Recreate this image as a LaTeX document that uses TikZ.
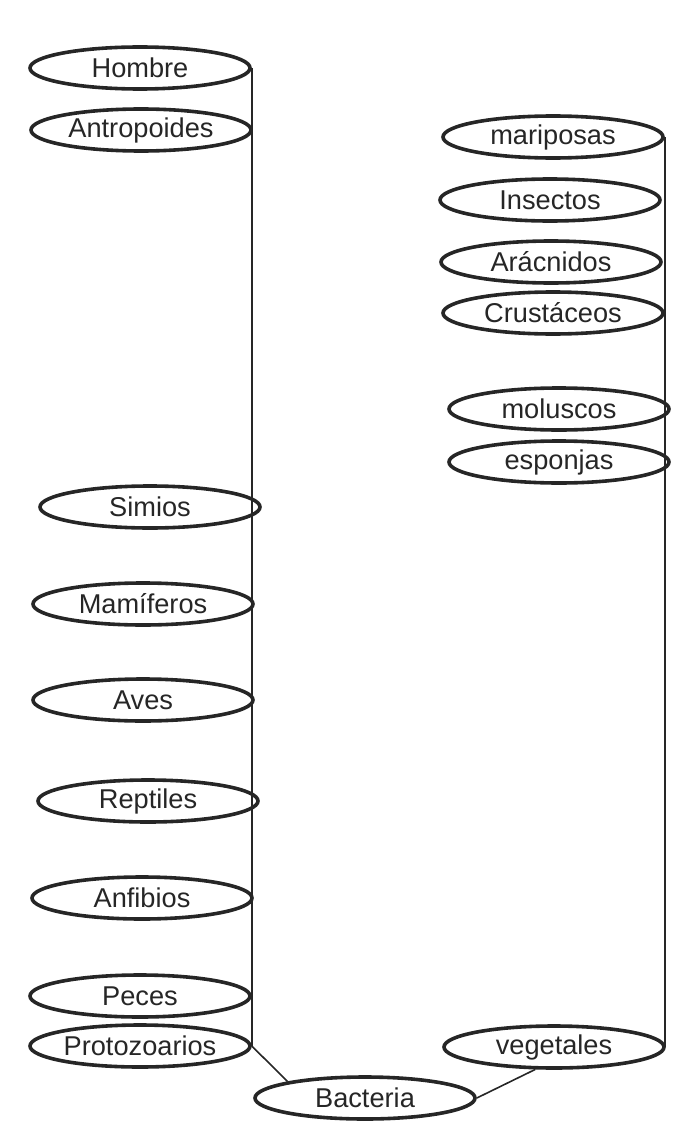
\documentclass[tikz,border=0pt]{standalone}
\usepackage{fontspec}
\setmainfont{Liberation Sans}
\usetikzlibrary{shapes.geometric}

\begin{document}
\begin{tikzpicture}[x=0.5pt, y=-0.5pt,
    taxon/.style={ellipse, draw=black!85, line width=1.8pt, inner sep=0pt,
                  minimum width=110pt, minimum height=21pt,
                  font=\fontsize{13.6}{15}\selectfont, text=black!85},
    stem/.style={draw=black!85, line width=0.8pt}
  ]
  \useasboundingbox (0,0) rectangle (688,1129);

  % left branch
  \node[taxon] (hom) at (140,68)   {Hombre};
  \node[taxon] (ant) at (141,130)  {Antropoides};
  \node[taxon] (sim) at (150,507)  {Simios};
  \node[taxon] (mam) at (143,604)  {Mamíferos};
  \node[taxon] (ave) at (143,700)  {Aves};
  \node[taxon] (rep) at (148,801)  {Reptiles};
  \node[taxon] (anf) at (142,898)  {Anfibios};
  \node[taxon] (pec) at (140,996)  {Peces};
  \node[taxon] (pro) at (140,1046) {Protozoarios};

  % right branch
  \node[taxon] (mar) at (553,137)  {mariposas};
  \node[taxon] (ins) at (550,200)  {Insectos};
  \node[taxon] (ara) at (551,262)  {Arácnidos};
  \node[taxon] (cru) at (553,313)  {Crustáceos};
  \node[taxon] (mol) at (559,409)  {moluscos};
  \node[taxon] (esp) at (559,462)  {esponjas};
  \node[taxon] (veg) at (554,1047) {vegetales};

  \node[taxon] (bac) at (365,1098) {Bacteria};

  \draw[stem] (hom.east) -- (pro.east);
  \draw[stem] (mar.east) -- (mar.east |- veg.east);
  \draw[stem] (pro.east) -- (bac.168);
  \draw[stem] (veg.230) -- (bac.east);
\end{tikzpicture}
\end{document}
